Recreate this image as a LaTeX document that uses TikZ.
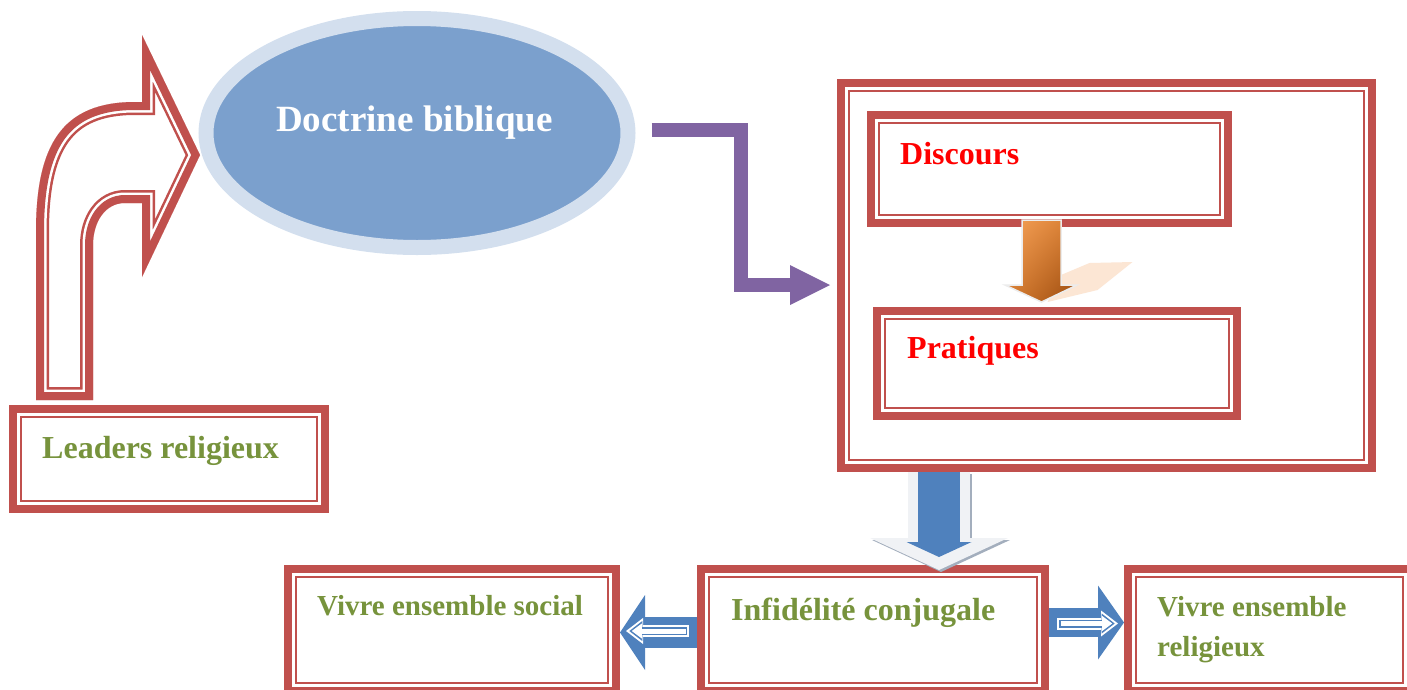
\documentclass[tikz,border=0pt]{standalone}
\usepackage{fontspec}
\setmainfont{Liberation Serif}
\usetikzlibrary{shapes.geometric,arrows.meta,calc,shadings}
\definecolor{boxred}{HTML}{C0504D}
\definecolor{textgreen}{HTML}{77933C}
\definecolor{textred}{HTML}{FF0000}
\definecolor{arrowpurple}{HTML}{8064A2}
\definecolor{arrowblue}{HTML}{4F81BD}
\definecolor{ellfill}{HTML}{7BA0CD}
\definecolor{ellring}{HTML}{D3DFEE}
\definecolor{arrowgray}{HTML}{F0F2F5}
\definecolor{arrowshadow}{HTML}{A3AEBD}
\definecolor{glowgray}{HTML}{ECECEC}
\definecolor{peach}{HTML}{FCE6D4}
\definecolor{orlight}{HTML}{F7A35A}
\definecolor{ormid}{HTML}{D67C30}
\definecolor{ordark}{HTML}{9A4A0E}
\newcommand{\bentpath}{(36,400) -- (36,232) .. controls (36,145) and (62,102) .. (135,102) -- (142,102) -- (142,35) -- (200,155) -- (142,277) -- (142,203) -- (125,203) .. controls (105,203) and (93,222) .. (93,245) -- (93,400) -- cycle}
\begin{document}
\begin{tikzpicture}[x=1pt,y=-1pt,
    dbox/.style={draw=boxred,line width=8pt,fill=white,inner sep=0pt,
      path picture={\draw[boxred,line width=2.5pt]
        ([shift={(8pt,8pt)}]path picture bounding box.south west) rectangle
        ([shift={(-8pt,-8pt)}]path picture bounding box.north east);}},
    lbl/.style={anchor=base west,inner sep=0pt,font=\bfseries\fontsize{32}{38}\selectfont},
    small/.style={font=\bfseries\fontsize{29}{40}\selectfont}]
    \useasboundingbox (0,0) rectangle (1407,689);
    \clip (0,0) rectangle (1407,689);
    % boxes and ellipse
    \node[ellipse,fill=ellfill,draw=ellring,line width=15pt,minimum width=422pt,minimum height=229pt,inner sep=0pt] (doc) at (417,133) {};
    \node[dbox,minimum width=312pt,minimum height=100pt] (lead) at (169,459) {};
    \node[dbox,minimum width=531pt,minimum height=385pt] (big) at (1106.5,275.5) {};
    \node[dbox,minimum width=357pt,minimum height=108pt] (disc) at (1049.5,169) {};
    \node[dbox,minimum width=360pt,minimum height=105pt] (prat) at (1057,363.5) {};
    \node[dbox,minimum width=328pt,minimum height=122pt] (social) at (452,630) {};
    \node[dbox,minimum width=344pt,minimum height=122pt] (infid) at (873,630) {};
    \node[dbox,minimum width=283pt,minimum height=122pt] (relig) at (1269.5,630) {};
    % bent arrow
    \begin{scope}
        \clip \bentpath;
        \draw[boxred,line width=26pt] \bentpath;
        \draw[white,line width=21pt] \bentpath;
        \draw[boxred,line width=16pt] \bentpath;
    \end{scope}
    % labels
    \node[lbl,anchor=base,text=white,font=\bfseries\fontsize{37}{44}\selectfont] (doctxt) at (414.5,131) {Doctrine biblique};
    \node[lbl,text=textgreen] (leadtxt) at (42,458) {Leaders religieux};
    \node[lbl,text=textred] (disctxt) at (900,164) {Discours};
    \node[lbl,text=textred] (prattxt) at (907,358) {Pratiques};
    \node[lbl,text=textgreen] (infidtxt) at (731,620) {Infidélité conjugale};
    \node[lbl,small,text=textgreen] (socialtxt) at (317,615) {Vivre ensemble social};
    \node[lbl,small,text=textgreen,align=left] (religtxt) at (1157,656) {Vivre ensemble\\religieux};
    % purple elbow
    \draw[arrowpurple,line width=14pt,-{Triangle[length=40pt,width=40pt,line width=0pt]}]
        ($(doc.east)+(16,-3)$) -| ($(big.west)+(-96,9.5)$) -- ($(big.west)+(-7,9.5)$);
    % orange arrow
    \coordinate (ord) at (1041.5,0 |- disc.south);
    \begin{scope}[shift={(ord)}]
        \fill[peach] (19.5,48) -- (48,36) -- (91,35) -- (56,63) -- (6,75) -- cycle;
        \shadedraw[draw=glowgray,line width=1.5pt,upper left=orlight,upper right=ormid,lower left=ormid,lower right=ordark]
            (-19.5,-7) -- (19.5,-7) -- (19.5,58) -- (35.5,58) -- (0,75) -- (-36.5,58) -- (-19.5,58) -- cycle;
    \end{scope}
    % blue down arrow
    \draw[arrowshadow,line width=62pt,shorten >=-5pt,transform canvas={xshift=2pt,yshift=-2pt},-{Triangle[length=32pt,width=138pt,line width=0pt]}]
        (939,0 |- big.south) -- (939,0 |- infid.north);
    \draw[arrowgray,line width=62pt,shorten >=-5pt,-{Triangle[length=32pt,width=138pt,line width=0pt]}]
        (939,0 |- big.south) -- (939,0 |- infid.north);
    \draw[arrowblue,line width=42pt,shorten >=8pt,-{Triangle[length=15pt,width=65pt,line width=0pt]}]
        (939,0 |- big.south) -- (939,0 |- infid.north);
    % side arrows
    \draw[arrowblue,line width=31pt,-{Triangle[length=25pt,width=75pt,line width=0pt]}]
        (infid.west |- 0,632.5) -- (social.east |- 0,632.5);
    \draw[white,line width=12pt,shorten <=8pt,shorten >=6pt,-{Triangle[length=17pt,width=26pt,line width=0pt]}]
        (infid.west |- 0,631) -- (social.east |- 0,631);
    \draw[arrowblue,line width=8pt,shorten <=10pt,shorten >=9.3pt,-{Triangle[length=13pt,width=20pt,line width=0pt]}]
        (infid.west |- 0,631) -- (social.east |- 0,631);
    \draw[white,line width=5pt,shorten <=11.5pt,shorten >=11.8pt,-{Triangle[length=10pt,width=15pt,line width=0pt]}]
        (infid.west |- 0,631) -- (social.east |- 0,631);
    \draw[arrowblue,line width=29pt,-{Triangle[length=26pt,width=74pt,line width=0pt]}]
        (infid.east |- 0,622.5) -- (relig.west |- 0,622.5);
    \draw[white,line width=12pt,shorten <=8pt,shorten >=6pt,-{Triangle[length=17pt,width=26pt,line width=0pt]}]
        (infid.east |- 0,623.5) -- (relig.west |- 0,623.5);
    \draw[arrowblue,line width=8pt,shorten <=10pt,shorten >=9.3pt,-{Triangle[length=13pt,width=20pt,line width=0pt]}]
        (infid.east |- 0,623.5) -- (relig.west |- 0,623.5);
    \draw[white,line width=5pt,shorten <=11.5pt,shorten >=11.8pt,-{Triangle[length=10pt,width=15pt,line width=0pt]}]
        (infid.east |- 0,623.5) -- (relig.west |- 0,623.5);
\end{tikzpicture}
\end{document}
